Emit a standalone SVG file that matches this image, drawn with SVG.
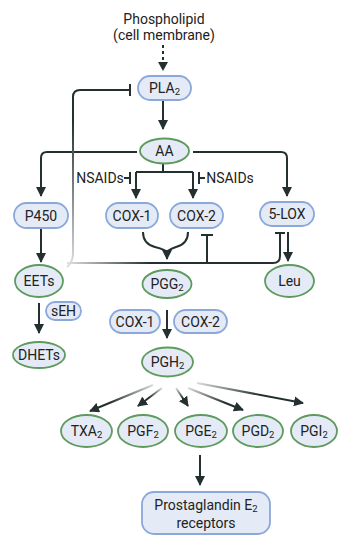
<svg xmlns="http://www.w3.org/2000/svg" width="339" height="536" viewBox="0 0 339 536">
<style>
text{font-family:Roboto,"Liberation Sans",sans-serif;font-size:14px;fill:#222;text-anchor:middle;dominant-baseline:central}
.sub{font-size:9.5px}
.b{fill:#e4ebf6;stroke:#8aa8da;stroke-width:1.8}
.g{fill:#e4ebf6;stroke:#5e9a5e;stroke-width:1.8}
.ln{fill:none;stroke:#243030;stroke-width:2}
.ar{fill:none;stroke:#243030;stroke-width:2;marker-end:url(#ah)}
</style>
<defs>
<marker id="ah" markerUnits="userSpaceOnUse" markerWidth="10" markerHeight="10" refX="9" refY="5" orient="auto">
<path d="M0,0 L10,5 L0,10 Z" fill="#243030"/>
</marker>
<linearGradient id="gv" gradientUnits="userSpaceOnUse" x1="0" y1="120" x2="0" y2="265"><stop offset="0" stop-color="#243030"/><stop offset="1" stop-color="#dcdcdc"/></linearGradient>
<linearGradient id="gh" gradientUnits="userSpaceOnUse" x1="67" y1="0" x2="150" y2="0"><stop offset="0" stop-color="#e0e0e0"/><stop offset="1" stop-color="#243030"/></linearGradient>
<linearGradient id="f1" gradientUnits="userSpaceOnUse" x1="153" y1="385" x2="110" y2="402"><stop offset="0" stop-color="#dcdcdc"/><stop offset="1" stop-color="#243030"/></linearGradient>
<linearGradient id="f2" gradientUnits="userSpaceOnUse" x1="162" y1="388" x2="150" y2="398"><stop offset="0" stop-color="#dcdcdc"/><stop offset="1" stop-color="#243030"/></linearGradient>
<linearGradient id="f3" gradientUnits="userSpaceOnUse" x1="176" y1="388" x2="183" y2="398"><stop offset="0" stop-color="#dcdcdc"/><stop offset="1" stop-color="#243030"/></linearGradient>
<linearGradient id="f4" gradientUnits="userSpaceOnUse" x1="188" y1="388" x2="225" y2="403"><stop offset="0" stop-color="#dcdcdc"/><stop offset="1" stop-color="#243030"/></linearGradient>
<linearGradient id="f5" gradientUnits="userSpaceOnUse" x1="197" y1="383" x2="260" y2="395"><stop offset="0" stop-color="#dcdcdc"/><stop offset="1" stop-color="#243030"/></linearGradient>
</defs>

<g id="connectors">
<path class="ln" d="M163,45 L163,62" stroke-dasharray="3,3"/>
<path d="M158,62 L168,62 L163,71 Z" fill="#243030"/>
<path class="ar" d="M163,100 L163,129"/>
<path class="ar" d="M137,152 L47,152 Q41,152 41,158 L41,196"/>
<path class="ar" d="M193,152 L281,152 Q287,152 287,158 L287,196"/>
<path class="ln" d="M163,163 L163,172 M136,172 L193,172"/>
<path class="ar" d="M136,172 L136,198"/>
<path class="ar" d="M193,172 L193,198"/>
<path class="ln" d="M124,178 L130,178 M130,172 L130,184"/>
<path class="ln" d="M205,178 L199,178 M199,172 L199,184"/>
<path d="M67,267 Q73,262 73,253 L73,97 Q73,90 80,90 L130,90" fill="none" stroke="url(#gv)" stroke-width="2"/>
<path class="ln" d="M130,84 L130,96"/>
<path class="ar" d="M41,228 L41,262"/>
<path d="M67,263 L273,263 Q280,263 280,256 L280,233" fill="none" stroke="url(#gh)" stroke-width="2"/>
<path class="ln" d="M275,233 L285,233"/>
<path class="ln" d="M207,263 L207,235 M201,235 L213,235"/>
<path class="ar" d="M288,232 L288,261"/>
<path class="ln" d="M143,232 Q143,244 155,247 Q166,250 167,252"/>
<path class="ln" d="M188,232 Q188,244 176,247 Q168,250 167,252"/>
<path class="ar" d="M167,250 L167,259"/>
<path class="ar" d="M39,303 L39,333"/>
<path class="ar" d="M167,310 L167,338"/>
<path d="M153,385 L90,411" fill="none" stroke="url(#f1)" stroke-width="2" marker-end="url(#ah)"/>
<path d="M162,388 L138,406" fill="none" stroke="url(#f2)" stroke-width="2" marker-end="url(#ah)"/>
<path d="M176,388 L188,406" fill="none" stroke="url(#f3)" stroke-width="2" marker-end="url(#ah)"/>
<path d="M188,388 L243,410" fill="none" stroke="url(#f4)" stroke-width="2" marker-end="url(#ah)"/>
<path d="M197,383 L303,403" fill="none" stroke="url(#f5)" stroke-width="2" marker-end="url(#ah)"/>
<path class="ar" d="M200,455 L200,485"/>
</g>

<g id="phospholipid"><text x="164" y="19">Phospholipid</text><text x="164" y="35">(cell membrane)</text></g>
<g id="nsaids1"><text x="100" y="178">NSAIDs</text></g>
<g id="nsaids2"><text x="230" y="178">NSAIDs</text></g>
<g id="pla2"><rect class="b" x="138" y="76" width="53" height="24" rx="12"/><text x="164.5" y="88">PLA<tspan class="sub" dy="3">2</tspan></text></g>
<g id="aa"><ellipse class="g" cx="164.5" cy="151" rx="24.5" ry="12.5"/><text x="164.5" y="151">AA</text></g>
<g id="p450"><rect class="b" x="14" y="203" width="54" height="25" rx="12.5"/><text x="41" y="215.5">P450</text></g>
<g id="cox1"><rect class="b" x="106" y="203" width="52" height="25" rx="12.5"/><text x="132" y="215.5">COX-1</text></g>
<g id="cox2"><rect class="b" x="170" y="203" width="53" height="25" rx="12.5"/><text x="196.5" y="215.5">COX-2</text></g>
<g id="lox5"><rect class="b" x="260" y="202" width="54" height="24" rx="12"/><text x="287" y="214">5-LOX</text></g>
<g id="eets"><ellipse class="g" cx="39" cy="281" rx="24" ry="16"/><text x="39" y="281">EETs</text></g>
<g id="pgg2"><ellipse class="g" cx="167" cy="284" rx="24.5" ry="14"/><text x="167" y="284">PGG<tspan class="sub" dy="3">2</tspan></text></g>
<g id="leu"><ellipse class="g" cx="289.5" cy="281" rx="24.5" ry="16"/><text x="289.5" y="281">Leu</text></g>
<g id="seh"><rect class="b" x="46" y="302" width="35" height="18" rx="9"/><text x="63.5" y="311">sEH</text></g>
<g id="cox1b"><rect class="b" x="110" y="310" width="50" height="23" rx="11.5"/><text x="135" y="321.5">COX-1</text></g>
<g id="cox2b"><rect class="b" x="174" y="310" width="53" height="23" rx="11.5"/><text x="200.5" y="321.5">COX-2</text></g>
<g id="dhets"><ellipse class="g" cx="39" cy="355" rx="26" ry="13"/><text x="39" y="355">DHETs</text></g>
<g id="pgh2"><ellipse class="g" cx="167.5" cy="362" rx="25.5" ry="14.5"/><text x="167.5" y="362">PGH<tspan class="sub" dy="3">2</tspan></text></g>
<g id="txa2"><ellipse class="g" cx="86.5" cy="431" rx="25.5" ry="16"/><text x="86.5" y="431">TXA<tspan class="sub" dy="3">2</tspan></text></g>
<g id="pgf2"><ellipse class="g" cx="143" cy="431" rx="25" ry="16"/><text x="143" y="431">PGF<tspan class="sub" dy="3">2</tspan></text></g>
<g id="pge2"><ellipse class="g" cx="201" cy="431" rx="26" ry="16"/><text x="201" y="431">PGE<tspan class="sub" dy="3">2</tspan></text></g>
<g id="pgd2"><ellipse class="g" cx="258" cy="431" rx="25" ry="16"/><text x="258" y="431">PGD<tspan class="sub" dy="3">2</tspan></text></g>
<g id="pgi2"><ellipse class="g" cx="314" cy="431" rx="23" ry="16"/><text x="314" y="431">PGI<tspan class="sub" dy="3">2</tspan></text></g>
<g id="receptors"><rect class="b" x="142" y="492" width="128" height="42" rx="12"/><text x="206" y="505">Prostaglandin E<tspan class="sub" dy="3">2</tspan></text><text x="206" y="523">receptors</text></g>
</svg>
